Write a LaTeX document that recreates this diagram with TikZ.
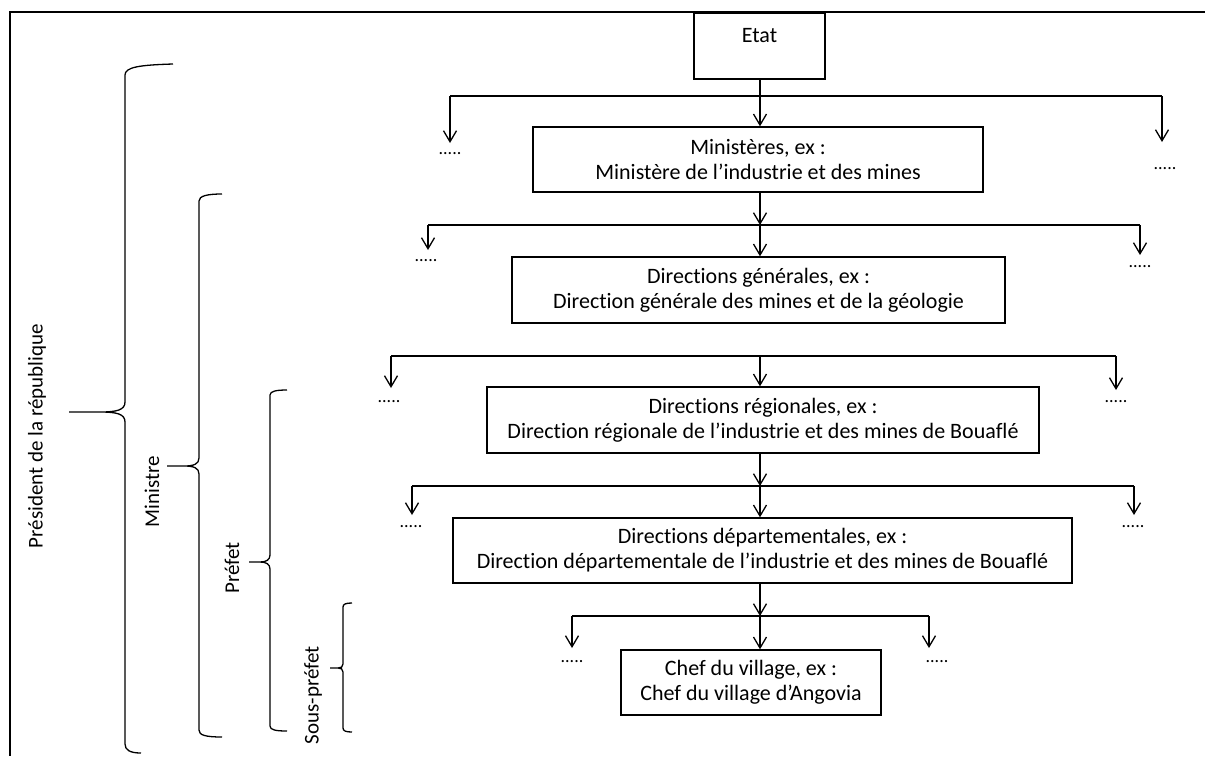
\documentclass[tikz,border=0pt]{standalone}
\usepackage{fontspec}
\setmainfont[Ligatures=NoCommon]{Carlito}
\usetikzlibrary{arrows.meta}
\begin{document}
\begin{tikzpicture}[x=1pt,y=-1pt,
  box/.style={draw, line width=1.4pt, inner sep=0pt, font=\fontsize{22}{25}\selectfont},
  box2/.style={box, align=center},
  conn/.style={line width=1.3pt},
  arr/.style={conn, -{Straight Barb[length=11pt,width=13pt]}},
  dotsnode/.style={font=\fontsize{18}{18}\selectfont, inner sep=0pt},
  brace/.style={line width=1.3pt},
  lab/.style={rotate=90, font=\fontsize{21}{24}\selectfont, inner sep=0pt},
]
\useasboundingbox (0,0) rectangle (1205,756);
\draw[line width=2.5pt] (1205,12) -- (10,12) -- (10,756);

% boxes
\node[box, minimum width=131pt, text height=29pt, text depth=37pt] (etat) at (759.5,46) {Etat};
\node[box2, minimum width=450pt, minimum height=65pt] (min) at (758,159.5) {Ministères, ex :\\Ministère de l’industrie et des mines};
\node[box2, minimum width=493pt, minimum height=66pt] (dg) at (758.5,290) {Directions générales, ex :\\Direction générale des mines et de la géologie};
\node[box2, minimum width=552pt, minimum height=66pt] (dr) at (763,420) {Directions régionales, ex :\\Direction régionale de l’industrie et des mines de Bouaflé};
\node[box2, minimum width=619pt, minimum height=65pt] (dd) at (762.5,550.5) {Directions départementales, ex :\\Direction départementale de l’industrie et des mines de Bouaflé};
\node[box2, minimum width=260pt, minimum height=65pt] (chef) at (751,682.5) {Chef du village, ex :\\Chef du village d’Angovia};

% level 1
\coordinate (c1) at (760,96);
\coordinate (l1) at (450,96); \coordinate (r1) at (1162,96);
\coordinate (tl1) at (450,143); \coordinate (tr1) at (1162,142);
\node[dotsnode] (dl1) at (450,154) {.....};
\node[dotsnode] (dr1) at (1165,169) {.....};
\draw[arr] (etat.south -| c1) -- (min.north -| c1);
\draw[conn] (l1) -- (r1);
\draw[arr] (l1) -- (tl1);
\draw[arr] (r1) -- (tr1);

% level 2
\coordinate (c2) at (760,225);
\coordinate (l2) at (428,225); \coordinate (r2) at (1140,225);
\coordinate (tl2) at (428,250); \coordinate (tr2) at (1140,255);
\node[dotsnode] (dl2) at (426,261) {.....};
\node[dotsnode] (dr2) at (1140,267) {.....};
\draw[arr] (min.south -| c2) -- (c2);
\draw[arr] (c2) -- (dg.north -| c2);
\draw[conn] (l2) -- (r2);
\draw[arr] (l2) -- (tl2);
\draw[arr] (r2) -- (tr2);

% level 3
\coordinate (c3) at (760,356);
\coordinate (l3) at (391,356); \coordinate (r3) at (1116,356);
\coordinate (tl3) at (391,388); \coordinate (tr3) at (1116,390);
\node[dotsnode] (dl3) at (389,402) {.....};
\node[dotsnode] (dr3) at (1116,402) {.....};
\draw[arr] (c3) -- (dr.north -| c3);
\draw[conn] (l3) -- (r3);
\draw[arr] (l3) -- (tl3);
\draw[arr] (r3) -- (tr3);

% level 4
\coordinate (c4) at (760,486);
\coordinate (l4) at (412,486); \coordinate (r4) at (1134,486);
\coordinate (tl4) at (412,515); \coordinate (tr4) at (1134,515);
\node[dotsnode] (dl4) at (411,527) {.....};
\node[dotsnode] (dr4) at (1133,527) {.....};
\draw[arr] (dr.south -| c4) -- (c4);
\draw[arr] (c4) -- (dd.north -| c4);
\draw[conn] (l4) -- (r4);
\draw[arr] (l4) -- (tl4);
\draw[arr] (r4) -- (tr4);

% level 5
\coordinate (c5) at (760,616);
\coordinate (l5) at (572,616); \coordinate (r5) at (929,616);
\coordinate (tl5) at (572,648); \coordinate (tr5) at (929,648);
\node[dotsnode] (dl5) at (572,662) {.....};
\node[dotsnode] (dr5) at (937,662) {.....};
\draw[arr] (dd.south -| c5) -- (c5);
\draw[arr] (c5) -- (chef.north -| c5);
\draw[conn] (l5) -- (r5);
\draw[arr] (l5) -- (tl5);
\draw[arr] (r5) -- (tr5);

% braces
\draw[brace] (173,64) .. controls (140,65) and (125,67) .. (125,75) -- (125,402)
  .. controls (125,410) and (117,412) .. (100,412) -- (69,412) -- (100,412)
  .. controls (117,412) and (125,414) .. (125,422) -- (125,744)
  .. controls (125,750) and (130,753) .. (141,753);
\draw[brace] (222,194) .. controls (207,194) and (199,196) .. (199,201) -- (199,458)
  .. controls (199,464) and (194,466) .. (184,466) -- (167,466) -- (184,466)
  .. controls (194,466) and (199,468) .. (199,474) -- (199,730)
  .. controls (199,735) and (205,737) .. (222,737);
\draw[brace] (287,390) .. controls (277,390) and (270,391) .. (270,395) -- (270,555)
  .. controls (270,560) and (266,562) .. (260,562) -- (249,562) -- (260,562)
  .. controls (266,562) and (270,564) .. (270,569) -- (270,726)
  .. controls (270,730) and (276,731) .. (287,731);
\draw[brace] (352,603) .. controls (346,603) and (343,604) .. (343,607) -- (343,664)
  .. controls (343,667) and (341,668) .. (338,668) -- (330,668) -- (338,668)
  .. controls (341,668) and (343,669) .. (343,672) -- (343,728)
  .. controls (343,731) and (346,732) .. (352,732);

% labels
\node[lab] (pres) at (37,436) {Président de la république};
\node[lab] (mini) at (152,492) {Ministre};
\node[lab] (pref) at (232,568) {Préfet};
\node[lab] (spref) at (313,695) {Sous-préfet};
\end{tikzpicture}
\end{document}
